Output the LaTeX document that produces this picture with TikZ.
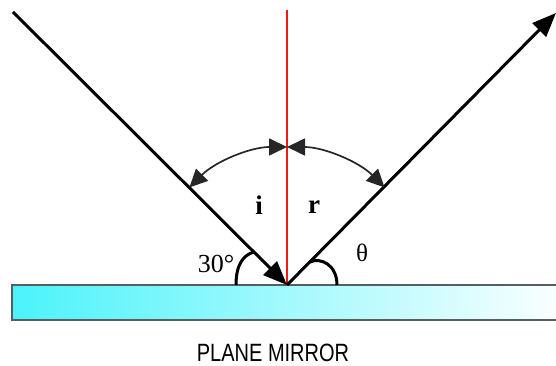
\documentclass[tikz,border=0pt]{standalone}
\usepackage{fontspec}
\setmainfont{Liberation Serif}
\newfontfamily\captionsans[FakeStretch=0.8]{Liberation Sans}
\usetikzlibrary{arrows.meta,calc}
\definecolor{mirrorcyan}{RGB}{75,243,250}
\definecolor{mirroredge}{RGB}{85,95,95}
\definecolor{normalred}{RGB}{240,25,25}
\tikzset{
  ray/.style={draw=black,line width=3pt},
  raytip/.style={-{Triangle[length=24pt,width=19pt]}},
  angarc/.style={draw=black!85,line width=1.7pt,
    {Triangle[length=18pt,width=17pt]}-{Triangle[length=18pt,width=17pt]}},
  footarc/.style={draw=black,line width=3pt},
  lbl/.style={inner sep=0pt,font=\fontsize{25}{25}\selectfont},
  mirror/.style={draw=mirroredge,line width=1.8pt,left color=mirrorcyan,right color=white},
}

\begin{document}
\begin{tikzpicture}[x=1pt,y=1pt]
  \useasboundingbox (0,0) rectangle (556,366);
  % mirror
  \path[mirror] (12,46) rectangle (575,81);
  \coordinate (P) at (287,81);
  \coordinate (src) at (13,354);
  \coordinate (dst) at (556,353);
  \coordinate (top) at (287,356);
  \draw[normalred,line width=2.8pt] (top) -- (P);
  \draw[ray,raytip] (src) -- (P);
  \draw[ray,raytip] (P) -- (dst);
  % angles
  \draw[angarc] ($(P)+(90:138)$) arc[start angle=90,end angle=135,radius=138pt];
  \draw[angarc] ($(P)+(90:138)$) arc[start angle=90,end angle=45,radius=138pt];
  \draw[footarc] ($(P)+(-51,0)$) .. controls ($(P)+(-51,20)$) and ($(P)+(-44,30)$) .. ($(P)+(-33,33)$);
  \draw[footarc] ($(P)+(23,23)$) .. controls ($(P)+(34,28)$) and ($(P)+(50,20)$) .. ($(P)+(50,0)$);
  \node[lbl,font=\fontsize{27}{27}\selectfont\bfseries] (lblI) at (259,161) {i};
  \node[lbl,font=\fontsize{27}{27}\selectfont\bfseries] (lblR) at (314,159) {r};
  \node[lbl] (lblTheta) at (362,113) {θ};
  \node[lbl,font=\fontsize{26}{26}\selectfont] (lblThirty) at (216,102) {30°};
  \node[inner sep=0pt,font=\captionsans\fontsize{25}{25}\selectfont] (caption) at (273,13) {PLANE MIRROR};
\end{tikzpicture}
\end{document}
